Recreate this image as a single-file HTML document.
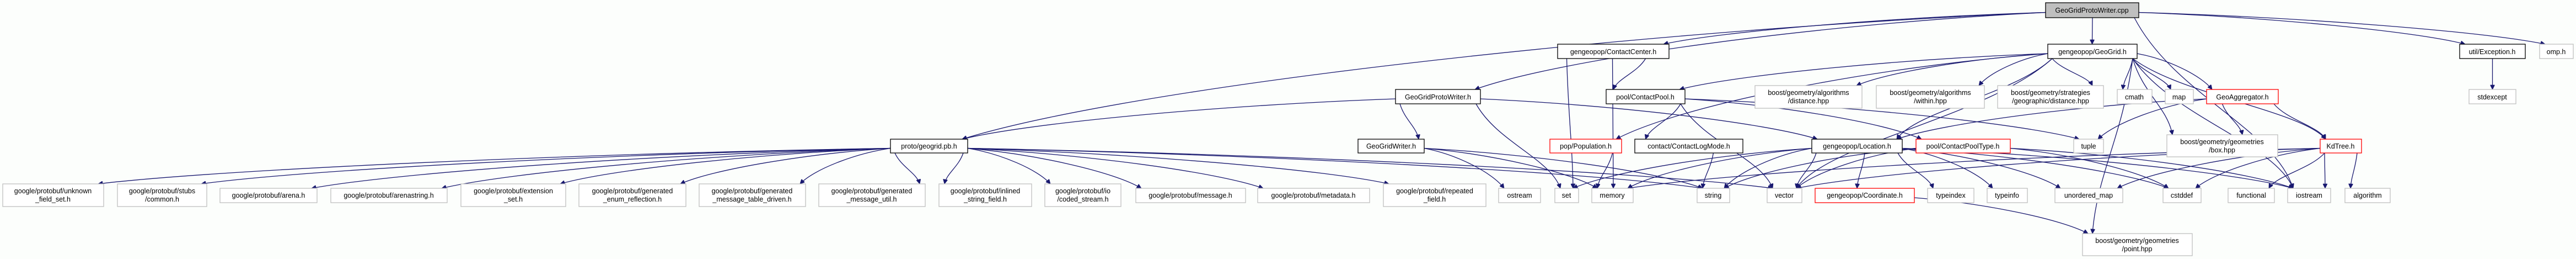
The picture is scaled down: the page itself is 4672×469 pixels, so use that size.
<!DOCTYPE html>
<html><head><meta charset="utf-8"><style>
html,body{margin:0;padding:0;background:#fcfefc;}
svg{display:block;}
text{font-family:"Liberation Sans",sans-serif;font-size:12.5px;fill:#000;text-anchor:middle;}
.d{fill:#fff;stroke:#000;stroke-width:1.3}
.l{fill:#fff;stroke:#bfbfbf;stroke-width:1.3}
.r{fill:#fff;stroke:#ff0000;stroke-width:1.3}
.g{fill:#bfbfbf;stroke:#000;stroke-width:1.3}
.e{fill:none;stroke:#191970;stroke-width:1.3}
</style></head><body>
<svg id="s" width="4672" height="469" viewBox="0 0 4672 469" xmlns="http://www.w3.org/2000/svg">
<defs><marker id="a" viewBox="0 0 10 10" refX="10" refY="5" markerWidth="10" markerHeight="8" markerUnits="userSpaceOnUse" orient="auto"><path d="M0,0L10,5L0,10z" fill="#191970" stroke="#191970"/></marker></defs>
<g id="edges"></g>
<g id="nodes">
<rect class="g" x="3710" y="5" width="169" height="27"/><text x="3794" y="23">GeoGridProtoWriter.cpp</text>
<rect class="d" x="2825" y="80" width="202" height="26"/><text x="2926" y="98">gengeopop/ContactCenter.h</text>
<rect class="d" x="3714" y="80" width="162" height="26"/><text x="3795" y="98">gengeopop/GeoGrid.h</text>
<rect class="d" x="4461" y="80" width="119" height="26"/><text x="4520" y="98">util/Exception.h</text>
<rect class="l" x="4606" y="80" width="61" height="26"/><text x="4636" y="98">omp.h</text>
<rect class="d" x="2531" y="162" width="154" height="26"/><text x="2608" y="180">GeoGridProtoWriter.h</text>
<rect class="d" x="2913" y="162" width="143" height="26"/><text x="2984" y="180">pool/ContactPool.h</text>
<rect class="l" x="3183" y="155" width="194" height="41"/><text x="3280" y="172">boost/geometry/algorithms</text><text x="3280" y="187">/distance.hpp</text>
<rect class="l" x="3403" y="155" width="196" height="41"/><text x="3501" y="172">boost/geometry/algorithms</text><text x="3501" y="187">/within.hpp</text>
<rect class="l" x="3623" y="155" width="192" height="41"/><text x="3719" y="172">boost/geometry/strategies</text><text x="3719" y="187">/geographic/distance.hpp</text>
<rect class="l" x="3840" y="162" width="63" height="26"/><text x="3871" y="180">cmath</text>
<rect class="l" x="3927" y="162" width="51" height="26"/><text x="3952" y="180">map</text>
<rect class="r" x="4002" y="162" width="130" height="26"/><text x="4067" y="180">GeoAggregator.h</text>
<rect class="l" x="4478" y="162" width="85" height="26"/><text x="4520" y="180">stdexcept</text>
<rect class="d" x="1615" y="252" width="140" height="25"/><text x="1685" y="269">proto/geogrid.pb.h</text>
<rect class="d" x="2463" y="252" width="120" height="25"/><text x="2523" y="269">GeoGridWriter.h</text>
<rect class="r" x="2811" y="252" width="130" height="25"/><text x="2876" y="269">pop/Population.h</text>
<rect class="d" x="2965" y="252" width="196" height="25"/><text x="3063" y="269">contact/ContactLogMode.h</text>
<rect class="d" x="3286" y="252" width="164" height="25"/><text x="3368" y="269">gengeopop/Location.h</text>
<rect class="r" x="3475" y="252" width="171" height="25"/><text x="3560" y="269">pool/ContactPoolType.h</text>
<rect class="l" x="3761" y="252" width="54" height="25"/><text x="3788" y="269">tuple</text>
<rect class="l" x="3930" y="244" width="201" height="40"/><text x="4030" y="261">boost/geometry/geometries</text><text x="4030" y="276">/box.hpp</text>
<rect class="r" x="4208" y="252" width="75" height="25"/><text x="4245" y="269">KdTree.h</text>
<rect class="l" x="5" y="333" width="183" height="41"/><text x="96" y="350">google/protobuf/unknown</text><text x="96" y="365">_field_set.h</text>
<rect class="l" x="213" y="333" width="162" height="41"/><text x="294" y="350">google/protobuf/stubs</text><text x="294" y="365">/common.h</text>
<rect class="l" x="399" y="341" width="176" height="26"/><text x="487" y="358">google/protobuf/arena.h</text>
<rect class="l" x="600" y="341" width="211" height="26"/><text x="705" y="358">google/protobuf/arenastring.h</text>
<rect class="l" x="836" y="333" width="190" height="41"/><text x="931" y="350">google/protobuf/extension</text><text x="931" y="365">_set.h</text>
<rect class="l" x="1050" y="333" width="194" height="41"/><text x="1147" y="350">google/protobuf/generated</text><text x="1147" y="365">_enum_reflection.h</text>
<rect class="l" x="1268" y="333" width="193" height="41"/><text x="1364" y="350">google/protobuf/generated</text><text x="1364" y="365">_message_table_driven.h</text>
<rect class="l" x="1485" y="333" width="193" height="41"/><text x="1581" y="350">google/protobuf/generated</text><text x="1581" y="365">_message_util.h</text>
<rect class="l" x="1703" y="333" width="168" height="41"/><text x="1787" y="350">google/protobuf/inlined</text><text x="1787" y="365">_string_field.h</text>
<rect class="l" x="1895" y="333" width="138" height="41"/><text x="1964" y="350">google/protobuf/io</text><text x="1964" y="365">/coded_stream.h</text>
<rect class="l" x="2060" y="341" width="199" height="26"/><text x="2159" y="358">google/protobuf/message.h</text>
<rect class="l" x="2281" y="341" width="203" height="26"/><text x="2382" y="358">google/protobuf/metadata.h</text>
<rect class="l" x="2509" y="333" width="186" height="41"/><text x="2602" y="350">google/protobuf/repeated</text><text x="2602" y="365">_field.h</text>
<rect class="l" x="2718" y="341" width="76" height="26"/><text x="2756" y="358">ostream</text>
<rect class="l" x="2820" y="341" width="43" height="26"/><text x="2841" y="358">set</text>
<rect class="l" x="2887" y="341" width="75" height="26"/><text x="2924" y="358">memory</text>
<rect class="l" x="3078" y="341" width="59" height="26"/><text x="3107" y="358">string</text>
<rect class="l" x="3205" y="341" width="63" height="26"/><text x="3236" y="358">vector</text>
<rect class="r" x="3292" y="341" width="180" height="26"/><text x="3382" y="358">gengeopop/Coordinate.h</text>
<rect class="l" x="3496" y="341" width="84" height="26"/><text x="3538" y="358">typeindex</text>
<rect class="l" x="3604" y="341" width="73" height="26"/><text x="3640" y="358">typeinfo</text>
<rect class="l" x="3727" y="341" width="123" height="26"/><text x="3788" y="358">unordered_map</text>
<rect class="l" x="3923" y="341" width="69" height="26"/><text x="3957" y="358">cstddef</text>
<rect class="l" x="4041" y="341" width="84" height="26"/><text x="4083" y="358">functional</text>
<rect class="l" x="4149" y="341" width="78" height="26"/><text x="4188" y="358">iostream</text>
<rect class="l" x="4253" y="341" width="82" height="26"/><text x="4294" y="358">algorithm</text>
<rect class="l" x="3777" y="423" width="199" height="40"/><text x="3876" y="440">boost/geometry/geometries</text><text x="3876" y="455">/point.hpp</text>
</g>
</svg>
<script>
var N={cpp:[3710,3879,5,32],cc:[2825,3027,80,106],gg:[3714,3876,80,106],ex:[4461,4580,80,106],omp:[4606,4667,80,106],
gpw:[2531,2685,162,188],cp:[2913,3056,162,188],dist:[3183,3377,155,196],within:[3403,3599,155,196],strat:[3623,3815,155,196],
cmath:[3840,3903,162,188],map:[3927,3978,162,188],ga:[4002,4132,162,188],stdx:[4478,4563,162,188],
pb:[1615,1755,252,277],gw:[2463,2583,252,277],pop:[2811,2941,252,277],clm:[2965,3161,252,277],loc:[3286,3450,252,277],
cpt:[3475,3646,252,277],tuple:[3761,3815,252,277],box:[3930,4131,244,284],kd:[4208,4283,252,277],
unk:[5,188,333,374],com:[213,375,333,374],arena:[399,575,341,367],astr:[600,811,341,367],ext:[836,1026,333,374],
enm:[1050,1244,333,374],tbl:[1268,1461,333,374],utl:[1485,1678,333,374],inl:[1703,1871,333,374],cod:[1895,2033,333,374],
msg:[2060,2259,341,367],meta:[2281,2484,341,367],rep:[2509,2695,333,374],ostream:[2718,2794,341,367],set:[2820,2863,341,367],
memory:[2887,2962,341,367],string:[3078,3137,341,367],vector:[3205,3268,341,367],coord:[3292,3472,341,367],tidx:[3496,3580,341,367],
tinfo:[3604,3677,341,367],umap:[3727,3850,341,367],cstddef:[3923,3992,341,367],func:[4041,4125,341,367],ios:[4149,4227,341,367],
alg:[4253,4335,341,367],point:[3777,3976,423,463]};
var E={cpp:['gg','cc','gpw','pb','ex','omp','ios'],
cc:['cp','set','memory'],
gpw:['pb','gw','loc','set'],
gw:['ostream','memory','string'],
pb:['unk','com','arena','astr','ext','enm','tbl','utl','inl','cod','msg','meta','rep','string','vector'],
gg:['cp','pop','loc','dist','within','strat','cmath','map','ga','box','kd','ios','point','vector'],
cp:['clm','vector','cpt','tuple'],
ga:['loc','tuple','box','kd'],
loc:['set','memory','string','vector','coord','tidx','tinfo','umap','cstddef','ios'],
cpt:['ios','cstddef','vector','string'],
kd:['vector','memory','umap','cstddef','func','ios','alg'],
pop:['memory'],clm:['string'],ex:['stdx'],coord:['point']};
function cl(v,a,b){return Math.max(a,Math.min(b,v));}
var g=document.getElementById('edges'),h='';
for(var s in E){var S=N[s];E[s].forEach(function(t){var T=N[t];
var tcx=(T[0]+T[1])/2,scx=(S[0]+S[1])/2;
var tx=cl(scx,T[0]+10,T[1]-10),ty=T[2];
var sx,sy,c1x,c1y,c2x,c2y;
var wide=Math.abs(tcx-scx)>3.5*(T[2]-S[3]);
if(wide){
 if(tcx<S[0]){sx=S[0];}else if(tcx>S[1]){sx=S[1];}else{sx=cl(tcx,S[0]+8,S[1]-8);}
 sy=wide&&(tcx<S[0]||tcx>S[1])?(S[2]+S[3])/2+4:S[3];
 var dx=tx-sx,dy=ty-sy;
 c1x=sx+dx*0.4;c1y=sy+dy*0.15;c2x=tx-dx*0.15;c2y=ty-dy*0.4;
}else{
 sx=cl(tcx,S[0]+8,S[1]-8);sy=S[3];
 var dx=tx-sx,dy=ty-sy;
 c1x=sx+dx*0.25;c1y=sy+dy*0.45;c2x=tx-dx*0.12;c2y=ty-dy*0.35;
}
h+='<path class="e" marker-end="url(#a)" d="M'+sx+','+sy+' C'+c1x+','+c1y+' '+c2x+','+c2y+' '+tx+','+ty+'"/>';});}
g.innerHTML=h;
</script>
</body></html>
